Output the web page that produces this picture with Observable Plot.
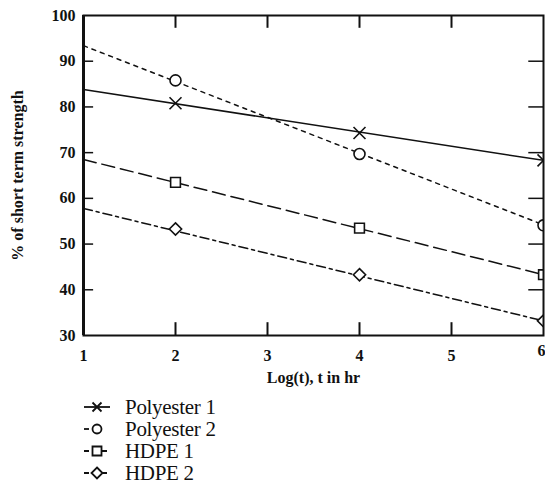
<!DOCTYPE html>
<html>
<head>
<meta charset="utf-8">
<script src="https://cdn.jsdelivr.net/npm/d3@7"></script>
<script src="https://cdn.jsdelivr.net/npm/@observablehq/plot@0.6"></script>
<style>
  body { margin: 0; background: #fff; }
  #legend { font-family: "Liberation Serif", serif; font-size: 21px; color: #111; margin-top: 6px; letter-spacing: -0.3px; }
  .row { display: flex; align-items: center; height: 22px; }
  .row svg { margin-left: 83px; margin-right: 14px; }
</style>
</head>
<body>
<div id="chart"></div>
<div id="legend"></div>
<script>
const series = ["Polyester 1", "Polyester 2", "HDPE 1", "HDPE 2"];
const symbols = ["times", "circle", "square", "diamond2"];
const dashes = ["none", "4,5", "13,6", "9,4,3,4"];
// fitted line end values at x = 1 and x = 6
const lineX = [1, 6];
const lineStart = [83.8, 93.4, 68.5, 57.8];
const lineEnd = [68.3, 54.2, 43.3, 33.2];
// measured points
const markerX = [2, 4, 6];
const markerY = [
  [80.8, 74.3, 68.3],
  [85.8, 69.7, 54.1],
  [63.5, 53.5, 43.3],
  [53.3, 43.3, 33.2]
];
const xTicks = [1, 2, 3, 4, 5, 6];
const yTicks = [30, 40, 50, 60, 70, 80, 90, 100];

const lines = series.flatMap((s, i) => [
  {s, i, x: lineX[0], y: lineStart[i]},
  {s, i, x: lineX[1], y: lineEnd[i]}
]);
const pts = series.flatMap((s, i) => markerX.map((x, j) => ({s, i, x, y: markerY[i][j]})));

const marks = [];
series.forEach((s, i) => {
  marks.push(Plot.line(lines.filter(d => d.i === i), {
    x: "x", y: "y", stroke: "#111", strokeWidth: 1.5,
    strokeDasharray: dashes[i], clip: "frame"
  }));
});
series.forEach((s, i) => {
  marks.push(Plot.dot(pts.filter(d => d.i === i), {
    x: "x", y: "y", symbol: () => symbols[i], r: 5.5,
    stroke: "#111", strokeWidth: 1.6, fill: i === 0 ? "none" : "white", clip: "frame"
  }));
});
const innerX = xTicks.slice(1, -1);
const innerY = yTicks.slice(1, -1);
const chart = Plot.plot({
  width: 545,
  height: 390,
  marginLeft: 83,
  marginRight: 2,
  marginTop: 15,
  marginBottom: 55,
  style: {fontFamily: "Liberation Serif, serif", fontSize: "17px", fontWeight: "bold", color: "#111", background: "white"},
  x: {domain: [1, 6]},
  y: {domain: [30, 100]},
  marks: [
    ...marks,
    Plot.ruleX(innerX, {x: d => d, y1: 100, y2: 97.2, stroke: "#111", strokeWidth: 2}),
    Plot.ruleX(innerX, {x: d => d, y1: 30, y2: 32.8, stroke: "#111", strokeWidth: 2}),
    Plot.ruleY(innerY, {y: d => d, x1: 1, x2: 1.11, stroke: "#111", strokeWidth: 1.5}),
    Plot.ruleY(innerY, {y: d => d, x1: 5.84, x2: 6, stroke: "#111", strokeWidth: 1.5}),
    Plot.frame({stroke: "#111", strokeWidth: 2}),
    Plot.ruleX([1], {stroke: "#111", strokeWidth: 3}),
    Plot.axisX({ticks: xTicks.slice(0, -1), tickSize: 0, tickPadding: 14, tickFormat: d3.format("d"), fontSize: 16,
      label: "Log(t), t in hr", labelAnchor: "center", labelArrow: "none", labelOffset: 47}),
    Plot.text(xTicks.slice(-1), {x: d => d, frameAnchor: "bottom", dy: 20, dx: 2, textAnchor: "end",
      text: d => String(d), fontSize: 16, fill: "#111"}),
    Plot.axisY({ticks: yTicks, tickSize: 0, tickPadding: 8, tickFormat: d3.format("d"), fontSize: 16,
      label: "% of short term strength", labelAnchor: "center", labelArrow: "none", labelOffset: 72})
  ]
});
chart.querySelectorAll("text").forEach(t => {
  if (t.textContent === "% of short term strength") t.setAttribute("font-size", 16);
});
document.getElementById("chart").appendChild(chart);

// legend
const legend = document.getElementById("legend");
const symPath = {
  "times": "M-4.5,-4.5L4.5,4.5M-4.5,4.5L4.5,-4.5",
  "square": "M-4.5,-4.5H4.5V4.5H-4.5Z",
  "diamond2": "M0,-5.5L5.5,0L0,5.5L-5.5,0Z"
};
series.forEach((s, i) => {
  const row = document.createElement("div");
  row.className = "row";
  const ns = "http://www.w3.org/2000/svg";
  const svg = document.createElementNS(ns, "svg");
  svg.setAttribute("width", 28); svg.setAttribute("height", 16);
  const g = document.createElementNS(ns, "g");
  g.setAttribute("transform", "translate(14,8)");
  const ln = document.createElementNS(ns, "line");
  ln.setAttribute("x1", -13); ln.setAttribute("x2", i === 1 ? 0 : 13);
  ln.setAttribute("stroke", "#111"); ln.setAttribute("stroke-width", 1.8);
  if (i > 0) ln.setAttribute("stroke-dasharray", "5,13");
  g.appendChild(ln);
  let shape;
  if (symbols[i] === "circle") {
    shape = document.createElementNS(ns, "circle");
    shape.setAttribute("r", 4.5);
  } else {
    shape = document.createElementNS(ns, "path");
    shape.setAttribute("d", symPath[symbols[i]]);
  }
  shape.setAttribute("fill", i === 0 ? "none" : "white");
  shape.setAttribute("stroke", "#111"); shape.setAttribute("stroke-width", 1.8);
  g.appendChild(shape);
  svg.appendChild(g);
  row.appendChild(svg);
  const t = document.createElement("span");
  t.textContent = s;
  row.appendChild(t);
  legend.appendChild(row);
});
</script>
</body>
</html>
